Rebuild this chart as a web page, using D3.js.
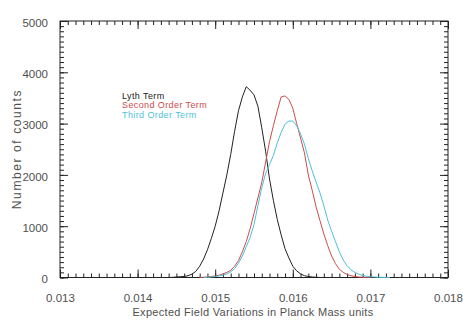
<!DOCTYPE html>
<html>
<head>
<meta charset="utf-8">
<script src="https://cdn.jsdelivr.net/npm/d3@7"></script>
<style>
  html, body { margin: 0; padding: 0; background: #fff; }
  svg { display: block; }
  text { font-family: "Liberation Sans", Arial, sans-serif; }
</style>
</head>
<body>
<svg id="chart" width="463" height="327"></svg>
<script>
// ---- Data ----
const xTickValues = [0.013, 0.014, 0.015, 0.016, 0.017, 0.018];
const xTickLabels = ["0.013", "0.014", "0.015", "0.016", "0.017", "0.018"];
const yTickValues = [0, 1000, 2000, 3000, 4000, 5000];
const yTickLabels = ["0", "1000", "2000", "3000", "4000", "5000"];
const seriesNames = ["Lyth Term", "Second Order Term", "Third Order Term"];
const seriesColors = ["#222222", "#cc4c4c", "#4fbfd8"];

const lythX = [0.01440,0.01445,0.01450,0.01455,0.01460,0.01465,0.01470,0.01475,0.01480,0.01485,0.01490,0.01495,0.01500,0.01505,0.01510,0.01515,0.01520,0.01525,0.01530,0.01535,0.01540,0.01545,0.01550,0.01555,0.01560,0.01565,0.01570,0.01575,0.01580,0.01585,0.01590,0.01595,0.01600,0.01605,0.01610,0.01615,0.01620,0.01625,0.01630,0.01635];
const lythY = [0,3,10,15,20,35,65,120,220,360,540,760,1000,1300,1650,2000,2400,2850,3250,3520,3720,3650,3560,3340,2920,2460,1920,1500,1130,830,560,380,220,130,70,35,20,10,5,0];

const secondX = [0.01480,0.01485,0.01490,0.01495,0.01500,0.01505,0.01510,0.01515,0.01520,0.01525,0.01530,0.01535,0.01540,0.01545,0.01550,0.01555,0.01560,0.01565,0.01570,0.01575,0.01580,0.01585,0.01590,0.01595,0.01600,0.01605,0.01610,0.01615,0.01620,0.01625,0.01630,0.01635,0.01640,0.01645,0.01650,0.01655,0.01660,0.01665,0.01670,0.01675,0.01680,0.01685,0.01690,0.01695,0.01700];
const secondY = [0,5,10,20,30,45,70,100,140,220,330,500,700,950,1250,1550,1850,2250,2650,2960,3250,3520,3540,3470,3300,3000,2720,2430,2000,1700,1380,1110,850,620,420,270,160,100,60,35,20,10,5,2,0];

const thirdX = [0.01485,0.01490,0.01495,0.01500,0.01505,0.01510,0.01515,0.01520,0.01525,0.01530,0.01535,0.01540,0.01545,0.01550,0.01555,0.01560,0.01565,0.01570,0.01575,0.01580,0.01585,0.01590,0.01595,0.01600,0.01605,0.01610,0.01615,0.01620,0.01625,0.01630,0.01635,0.01640,0.01645,0.01650,0.01655,0.01660,0.01665,0.01670,0.01675,0.01680,0.01685,0.01690,0.01695,0.01700,0.01705,0.01710,0.01715,0.01720,0.01725];
const thirdY = [0,5,10,20,30,45,70,110,170,280,420,600,780,1030,1400,1750,2030,2200,2380,2620,2830,2990,3050,3050,2960,2800,2600,2320,2080,1860,1650,1400,1120,900,700,500,340,230,150,100,65,40,25,15,10,5,3,2,0];

const xTitle = "Expected Field Variations in Planck Mass units";
const yTitle = "Number of counts";

// ---- Layout ----
const svg = d3.select("#chart");
const mLeft = 60, mRight = 448, mTop = 21, mBottom = 277.5;

const x = d3.scaleLinear().domain([0.013, 0.018]).range([mLeft, mRight]);
const y = d3.scaleLinear().domain([0, 5000]).range([mBottom, mTop]);

const axisColor = "#222";
const textColor = "#505050";

// frame
svg.append("rect")
  .attr("x", mLeft).attr("y", mTop)
  .attr("width", mRight - mLeft).attr("height", mBottom - mTop)
  .attr("fill", "none").attr("stroke", axisColor).attr("stroke-width", 1);

// minor ticks values
const xMinor = d3.range(0, 51).map(i => 0.013 + i * 0.0001);
const yMinor = d3.range(0, 51).map(i => i * 100);

function styleAxis(g) {
  g.select(".domain").remove();
  g.selectAll(".tick line").attr("stroke", axisColor).attr("stroke-width", 1);
}

// bottom axis minor
svg.append("g").attr("transform", `translate(0,${mBottom})`)
  .call(d3.axisBottom(x).tickValues(xMinor).tickSize(-4).tickFormat(""))
  .call(styleAxis);
// bottom axis major
const xb = svg.append("g").attr("transform", `translate(0,${mBottom})`)
  .call(d3.axisBottom(x).tickValues(xTickValues).tickSize(-8)
    .tickFormat((d, i) => xTickLabels[i]).tickPadding(16))
  .call(styleAxis);
xb.selectAll("text").attr("font-size", "11.5px").attr("fill", textColor)
  .attr("font-family", "Liberation Sans, Arial, sans-serif");

// top axis
svg.append("g").attr("transform", `translate(0,${mTop})`)
  .call(d3.axisTop(x).tickValues(xMinor).tickSize(-4).tickFormat(""))
  .call(styleAxis);
svg.append("g").attr("transform", `translate(0,${mTop})`)
  .call(d3.axisTop(x).tickValues(xTickValues).tickSize(-8).tickFormat(""))
  .call(styleAxis);

// left axis
svg.append("g").attr("transform", `translate(${mLeft},0)`)
  .call(d3.axisLeft(y).tickValues(yMinor).tickSize(-4).tickFormat(""))
  .call(styleAxis);
const yl = svg.append("g").attr("transform", `translate(${mLeft},0)`)
  .call(d3.axisLeft(y).tickValues(yTickValues).tickSize(-8)
    .tickFormat((d, i) => yTickLabels[i]).tickPadding(12))
  .call(styleAxis);
yl.selectAll("text").attr("font-size", "11.5px").attr("fill", textColor)
  .attr("dy", "0.45em")
  .attr("font-family", "Liberation Sans, Arial, sans-serif");

// right axis
svg.append("g").attr("transform", `translate(${mRight},0)`)
  .call(d3.axisRight(y).tickValues(yMinor).tickSize(-4).tickFormat(""))
  .call(styleAxis);
svg.append("g").attr("transform", `translate(${mRight},0)`)
  .call(d3.axisRight(y).tickValues(yTickValues).tickSize(-8).tickFormat(""))
  .call(styleAxis);

// titles
svg.append("text")
  .attr("x", 253).attr("y", 316)
  .attr("text-anchor", "middle")
  .attr("font-size", "11px").attr("fill", textColor)
  .attr("letter-spacing", "0.3px")
  .text(xTitle);

svg.append("text")
  .attr("transform", `translate(21,149) rotate(-90)`)
  .attr("text-anchor", "middle")
  .attr("font-size", "12px").attr("fill", textColor)
  .attr("letter-spacing", "1.6px")
  .text(yTitle);

// curves
const line = d3.line().x(d => x(d[0])).y(d => y(d[1])).curve(d3.curveLinear);
const seriesData = [
  d3.zip(lythX, lythY),
  d3.zip(secondX, secondY),
  d3.zip(thirdX, thirdY)
];
seriesData.forEach((data, i) => {
  svg.append("path")
    .datum(data)
    .attr("d", line)
    .attr("fill", "none")
    .attr("stroke", seriesColors[i])
    .attr("stroke-width", 1)
    .attr("stroke-linejoin", "round");
});

// legend
seriesNames.forEach((name, i) => {
  svg.append("text")
    .attr("x", 122).attr("y", 98.5 + i * 9.5)
    .attr("font-size", "9px")
    .attr("letter-spacing", "0.4px")
    .attr("fill", seriesColors[i])
    .text(name);
});
</script>
</body>
</html>
